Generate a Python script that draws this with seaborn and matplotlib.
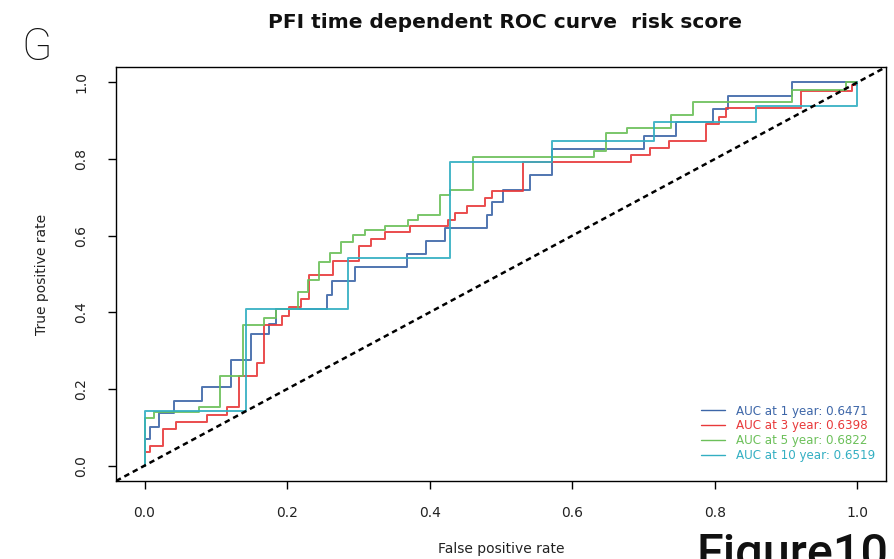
import matplotlib
matplotlib.use("Agg")
import matplotlib.pyplot as plt
import seaborn as sns
import pandas as pd

# ---- data ----
fpr_1y = [0, 0, 0.008, 0.020, 0.041, 0.080, 0.122, 0.149, 0.175, 0.185,
          0.256, 0.263, 0.295, 0.368, 0.395, 0.422, 0.481, 0.487, 0.503, 0.540,
          0.572, 0.701, 0.745, 0.797, 0.818, 0.908, 1.0]
tpr_1y = [0, 0.070, 0.100, 0.137, 0.169, 0.206, 0.275, 0.343, 0.369, 0.408,
          0.445, 0.482, 0.517, 0.553, 0.586, 0.619, 0.655, 0.689, 0.720, 0.757,
          0.827, 0.861, 0.896, 0.931, 0.965, 1.0, 1.0]

fpr_3y = [0, 0, 0.007, 0.026, 0.044, 0.087, 0.115, 0.132, 0.158, 0.167,
          0.193, 0.203, 0.220, 0.230, 0.265, 0.301, 0.318, 0.337, 0.372, 0.425,
          0.435, 0.452, 0.478, 0.487, 0.531, 0.683, 0.709, 0.736, 0.788, 0.806,
          0.815, 0.921, 0.992, 1.0]
tpr_3y = [0, 0.035, 0.052, 0.096, 0.113, 0.132, 0.152, 0.234, 0.269, 0.367,
          0.390, 0.413, 0.436, 0.497, 0.534, 0.573, 0.590, 0.609, 0.625, 0.642,
          0.660, 0.677, 0.699, 0.716, 0.793, 0.810, 0.830, 0.848, 0.892, 0.909,
          0.933, 0.977, 0.994, 1.0]

fpr_5y = [0, 0, 0.014, 0.076, 0.106, 0.138, 0.168, 0.185, 0.215, 0.229,
          0.245, 0.260, 0.276, 0.292, 0.309, 0.338, 0.369, 0.384, 0.415, 0.429,
          0.461, 0.631, 0.647, 0.677, 0.739, 0.769, 0.908, 0.984, 1.0]
tpr_5y = [0, 0.124, 0.140, 0.154, 0.234, 0.367, 0.384, 0.409, 0.452, 0.484,
          0.532, 0.556, 0.584, 0.601, 0.614, 0.625, 0.640, 0.653, 0.705, 0.720,
          0.806, 0.820, 0.867, 0.881, 0.914, 0.948, 0.981, 1.0, 1.0]

fpr_10y = [0, 0, 0.143, 0.286, 0.429, 0.571, 0.714, 0.857, 1.0]
tpr_10y = [0, 0.143, 0.408, 0.543, 0.792, 0.847, 0.896, 0.939, 1.0]

labels = ["AUC at 1 year: 0.6471", "AUC at 3 year: 0.6398",
          "AUC at 5 year: 0.6822", "AUC at 10 year: 0.6519"]
colors = ["#3D66A8", "#E8393A", "#6CC05A", "#33AFC2"]
xticks = [0.0, 0.2, 0.4, 0.6, 0.8, 1.0]
yticks = [0.0, 0.2, 0.4, 0.6, 0.8, 1.0]

series = [(fpr_1y, tpr_1y), (fpr_3y, tpr_3y), (fpr_5y, tpr_5y), (fpr_10y, tpr_10y)]

sns.set_theme(style="white")
plt.rcParams['font.family'] = ['DejaVu Sans']

fig = plt.figure(figsize=(8.95, 5.59), dpi=100)
ax = fig.add_axes([116/895, 1-481/559, (886-116)/895, (481-67)/559])

for (fx, ty), lab, col in zip(series, labels, colors):
    df = pd.DataFrame({"fpr": fx, "tpr": ty})
    sns.lineplot(data=df, x="fpr", y="tpr", sort=False, estimator=None,
                 drawstyle="steps-post", color=col, lw=1.4, alpha=0.9,
                 label=lab, ax=ax)

ax.axline((0, 0), (1, 1), color="black", lw=1.8, linestyle=(0, (2.2, 1.6)))

ax.set_xlim(-0.04, 1.04)
ax.set_ylim(-0.04, 1.04)
ax.set_xticks(xticks)
ax.set_yticks(yticks)
ax.set_xticklabels([f"{v:.1f}" for v in xticks])
ax.set_yticklabels([f"{v:.1f}" for v in yticks], rotation=90, va="center")
ax.tick_params(axis="both", direction="out", length=6, width=1, color="black",
               labelsize=10, bottom=True, left=True, labelcolor="#222222")
ax.tick_params(axis="x", pad=12)
ax.tick_params(axis="y", pad=14)

for s in ax.spines.values():
    s.set_color("black")
    s.set_linewidth(1.0)

ax.set_xlabel("False positive rate", fontsize=10, labelpad=16, color="#222222")
ax.set_ylabel("True positive rate", fontsize=10, labelpad=18, color="#222222")

leg = ax.legend(loc="lower right", bbox_to_anchor=(1.0, 0.02), frameon=False,
                fontsize=8.6, handlelength=2.0, handletextpad=0.9, labelspacing=0.15,
                labelcolor="linecolor")
for h in leg.get_lines():
    h.set_linewidth(1.0)
    h.set_alpha(1)

fig.text(505/895, 1-22/559, "PFI time dependent ROC curve  risk score",
         ha="center", va="center", fontsize=14.5, fontweight="bold", color="#111111")
fig.text(21/895, 1-48/559, "G", ha="left", va="center", fontsize=32,
         fontweight="light", color="#111111", family=["Roboto", "DejaVu Sans"])
fig.text(697/895, 1-568/559, "Figure10", ha="left", va="baseline", fontsize=35,
         fontweight="medium", color="#111111", family=["Roboto", "DejaVu Sans"])

fig.savefig("out.png", dpi=100)
